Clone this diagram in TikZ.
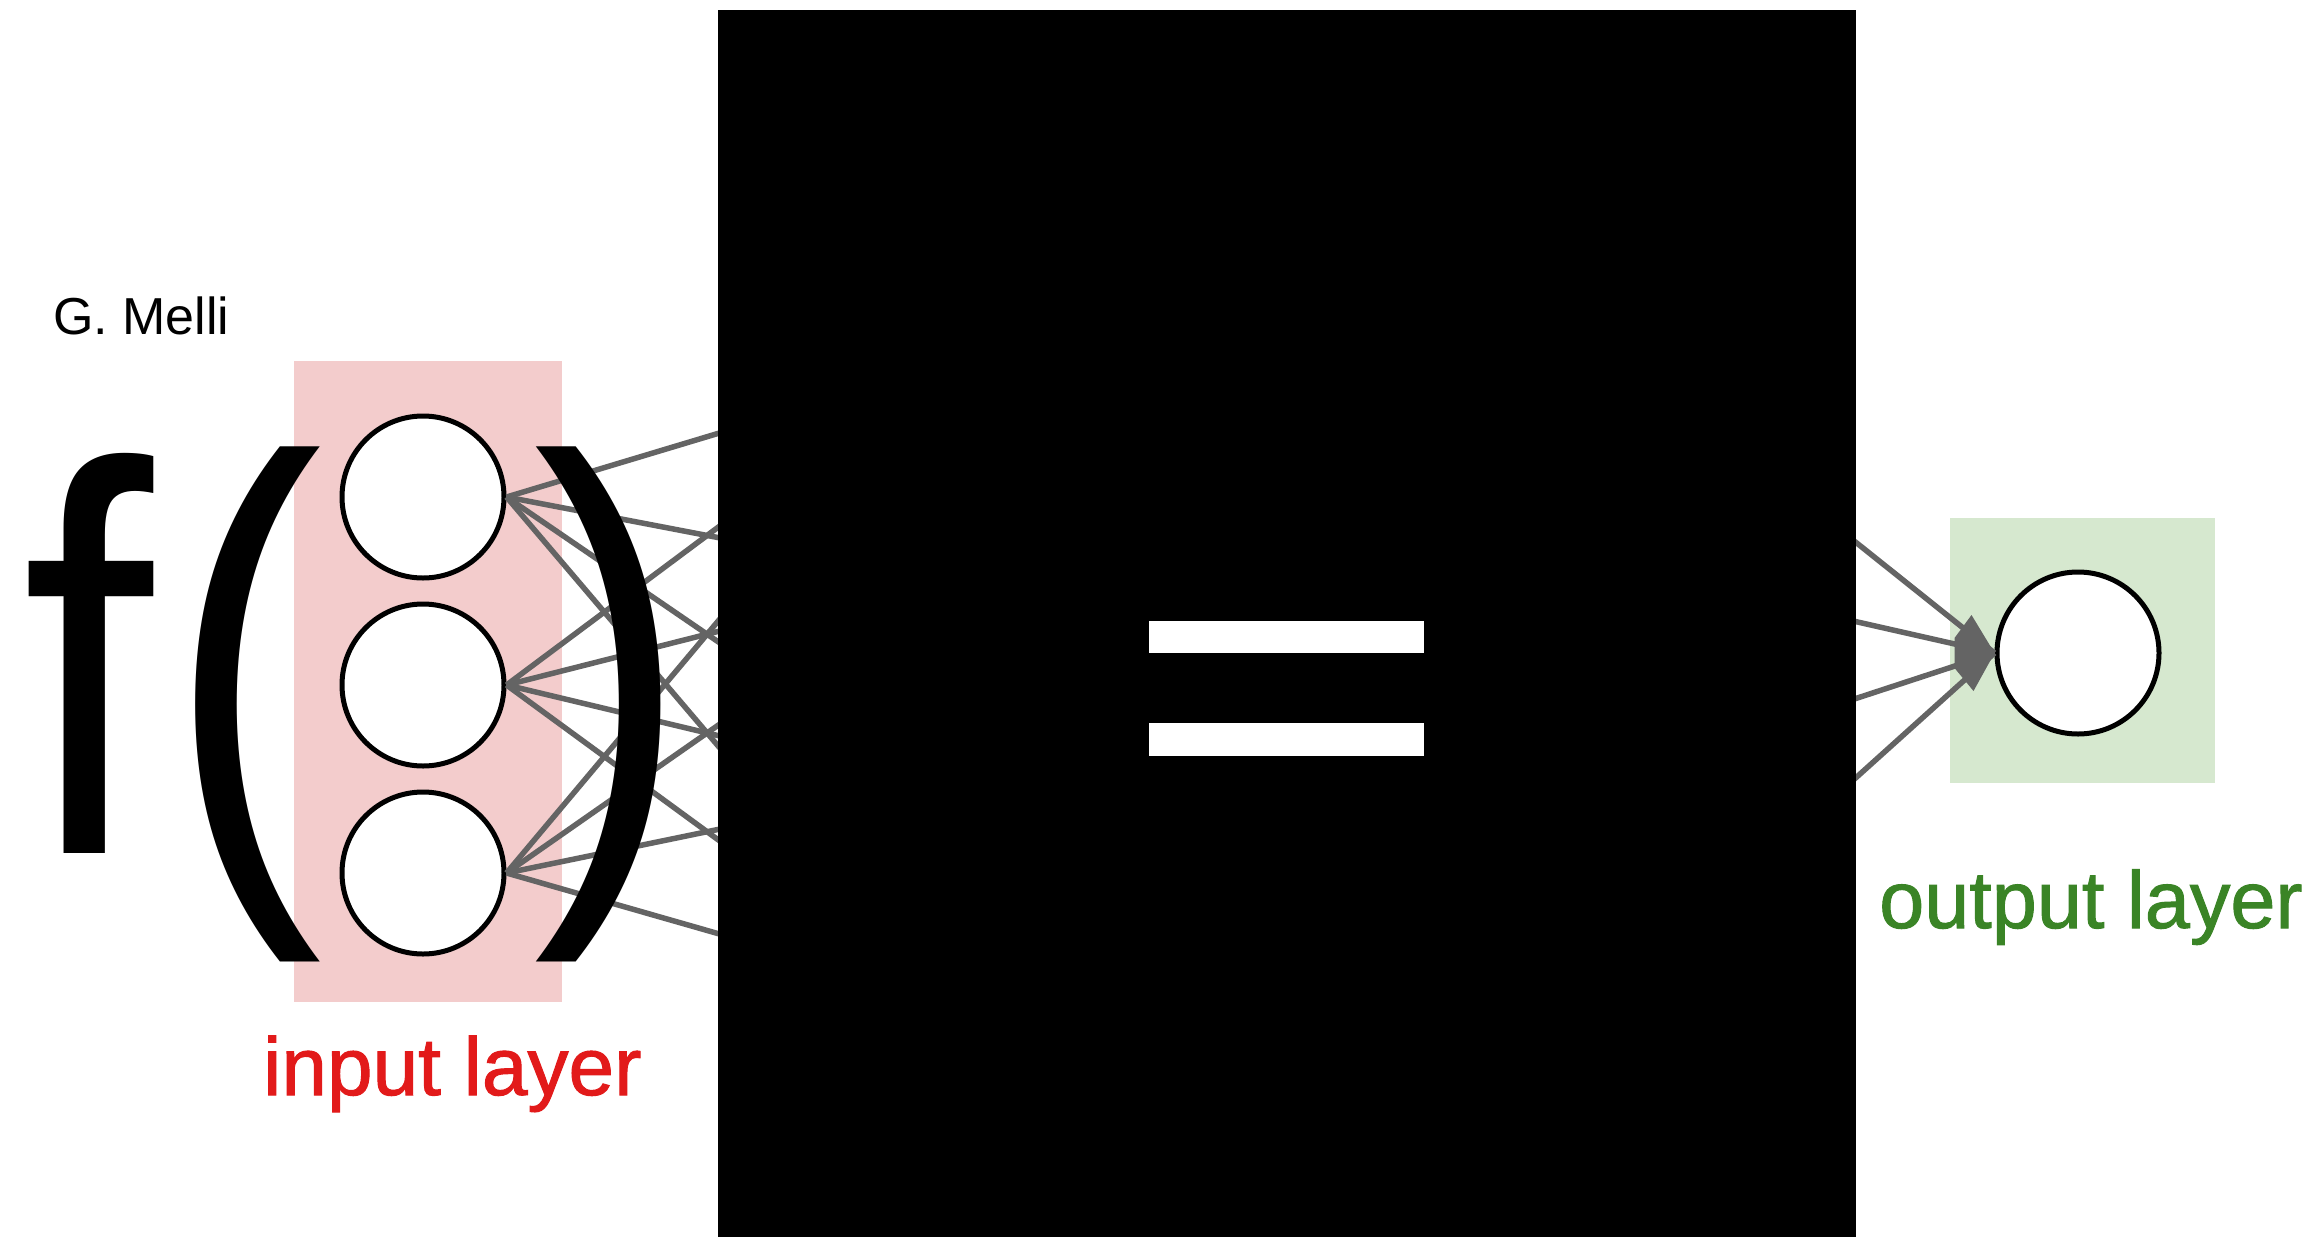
\documentclass[tikz,border=0pt]{standalone}
\usepackage{fontspec}
\setmainfont{Liberation Sans}
\newfontfamily\labelfont{Liberation Sans}[FakeBold=1.2]
\usetikzlibrary{arrows.meta}
\definecolor{pinkbg}{RGB}{243,204,204}
\definecolor{greenbg}{RGB}{214,232,207}
\definecolor{linegray}{RGB}{100,100,100}
\definecolor{inred}{RGB}{226,26,26}
\definecolor{outgreen}{RGB}{58,132,38}
\newcommand{\narrow}[1]{\scalebox{0.85}[1]{#1}}
\begin{document}
\begin{tikzpicture}[x=1pt,y=-1pt,
  neuron/.style={circle, draw=black, line width=5pt, fill=white, minimum size=162pt, inner sep=0pt},
  conn/.style={draw=linegray, line width=5.5pt},
  bigsym/.style={anchor=base west, inner sep=0pt, font=\fontsize{553}{600}\selectfont},
  lbl/.style={anchor=base west, inner sep=0pt}]
\useasboundingbox (0,0) rectangle (2320,1237);
\fill[white] (0,0) rectangle (2320,1237);
% layer backgrounds
\node[fill=pinkbg, inner sep=0pt, minimum width=268pt, minimum height=641pt] (inbox) at (428,681.5) {};
\node[fill=greenbg, inner sep=0pt, minimum width=265pt, minimum height=265pt] (outbox) at (2082.5,650.5) {};
% hidden-layer anchor points (covered by the black box)
\coordinate (h1) at (929,370);
\coordinate (h2) at (929,578);
\coordinate (h3) at (929,786);
\coordinate (h4) at (929,994);
\coordinate (g1) at (1650,378);
\coordinate (g2) at (1650,575);
\coordinate (g3) at (1650,766);
\coordinate (g4) at (1650,963);
% input neurons
\node[neuron] (in1) at (423,497) {};
\node[neuron] (in2) at (423,685) {};
\node[neuron] (in3) at (423,873) {};
\foreach \i in {1,2,3}{
  \foreach \j in {1,2,3,4}{
    \draw[conn] (in\i.east) -- (h\j);
  }
}
% output neuron
\node[neuron] (out) at (2078,653) {};
\foreach \j in {1,2,3,4}{
  \draw[conn] (g\j) -- (out.west);
}
\fill[linegray] (out.west) -- ++(-23,-38) -- ++(-17,23) -- ++(0,30) -- ++(19,23) -- cycle;
% black box with equals sign
\node[fill=black, inner sep=0pt, minimum width=1138pt, minimum height=1227pt] (blk) at (1287,623.5) {};
\node[fill=white, inner sep=0pt, minimum width=275pt, minimum height=32pt] (eqtop) at (1286.5,637) {};
\node[fill=white, inner sep=0pt, minimum width=275pt, minimum height=33pt] (eqbot) at (1286.5,739.5) {};
% f( )
\node[bigsym] (fsym) at (22,853) {\narrow{f}};
\node[bigsym] (lpar) at (166,847) {\narrow{(}};
\node[bigsym] (rpar) at (533,847) {\narrow{)}};
% labels
\node[lbl, font=\fontsize{52}{60}\selectfont] (author) at (53,334) {G. Melli};
\node[lbl, text=inred, font=\labelfont\fontsize{82}{90}\selectfont] (inlabel) at (263,1095) {input layer};
\node[lbl, text=outgreen, font=\labelfont\fontsize{81}{90}\selectfont] (outlabel) at (1879,928) {output layer};
\end{tikzpicture}
\end{document}
